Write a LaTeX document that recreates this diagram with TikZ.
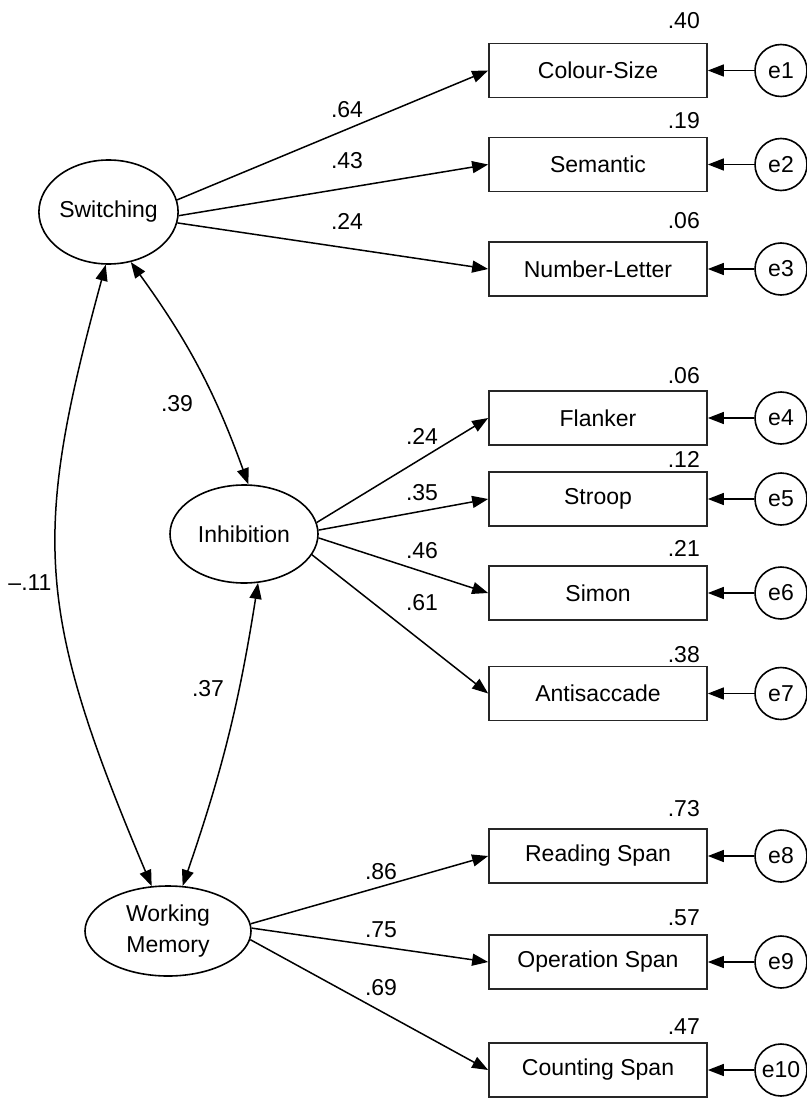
\documentclass[tikz,border=0pt]{standalone}
\usepackage{fontspec}
\setmainfont{Liberation Sans}
\usetikzlibrary{arrows.meta,shapes.geometric}
\begin{document}
\begin{tikzpicture}[x=1pt,y=-1pt,
  every node/.style={font=\fontsize{23}{31}\selectfont},
  obs/.style={draw=black!85,line width=1.7pt,minimum width=218pt,minimum height=54pt,inner sep=0pt},
  lat/.style={draw,ellipse,line width=1.6pt,inner sep=0pt},
  err/.style={draw,circle,line width=1.6pt,minimum size=52pt,inner sep=0pt},
  lbl/.style={inner sep=0pt},
  load/.style={line width=1.5pt,-{Triangle[length=16pt,width=12pt]}},
  cov/.style={line width=1.5pt,{Triangle[length=16pt,width=12pt]}-{Triangle[length=16pt,width=12pt]}}
]
\useasboundingbox (0,0) rectangle (806,1099);
\fill[white] (0,0) rectangle (806,1099);

% latent variables
\node[lat,minimum width=137pt,minimum height=104pt] (sw) at (108.5,212) {Switching};
\node[lat,minimum width=148pt,minimum height=98pt] (inh) at (244,534) {Inhibition};
\node[lat,minimum width=166pt,minimum height=90pt,align=center] (wm) at (168,931) {Working\\Memory};

% observed variables
\node[obs] (cs)  at (598,70.5)  {Colour-Size};
\node[obs] (sem) at (598,164.5) {Semantic};
\node[obs] (nl)  at (598,269)   {Number-Letter};
\node[obs] (fl)  at (598,418)   {Flanker};
\node[obs] (st)  at (598,499)   {Stroop};
\node[obs] (si)  at (598,593)   {Simon};
\node[obs] (an)  at (598,693.5) {Antisaccade};
\node[obs] (rs)  at (598,856)   {Reading Span};
\node[obs] (os)  at (598,962)   {Operation Span};
\node[obs] (cn)  at (598,1070)  {Counting Span};

% error terms
\node[err] (e1)  at (781,70.5)  {e1};
\node[err] (e2)  at (781,164.5) {e2};
\node[err] (e3)  at (781,269)   {e3};
\node[err] (e4)  at (781,418)   {e4};
\node[err] (e5)  at (781,499)   {e5};
\node[err] (e6)  at (781,593)   {e6};
\node[err] (e7)  at (781,693.5) {e7};
\node[err] (e8)  at (781,856)   {e8};
\node[err] (e9)  at (781,962)   {e9};
\node[err] (e10) at (781,1070)  {e10};

% R squared
\node[lbl,anchor=east] (r1)  at (700,21)   {.40};
\node[lbl,anchor=east] (r2)  at (700,121)  {.19};
\node[lbl,anchor=east] (r3)  at (700,221)  {.06};
\node[lbl,anchor=east] (r4)  at (700,376)  {.06};
\node[lbl,anchor=east] (r5)  at (700,459)  {.12};
\node[lbl,anchor=east] (r6)  at (700,548)  {.21};
\node[lbl,anchor=east] (r7)  at (700,655)  {.38};
\node[lbl,anchor=east] (r8)  at (700,809)  {.73};
\node[lbl,anchor=east] (r9)  at (700,918)  {.57};
\node[lbl,anchor=east] (r10) at (700,1027) {.47};

% loadings
\draw[load] (sw.10)  -- (cs.west);
\draw[load] (sw.-3)  -- (sem.west);
\draw[load] (sw.-9)  -- (nl.west);
\draw[load] (inh.9)  -- (fl.west);
\draw[load] (inh.3)  -- (st.west);
\draw[load] (inh.-3) -- (si.west);
\draw[load] (inh.-17) -- (an.west);
\draw[load] (wm.5.5) -- (rs.west);
\draw[load] (wm.2)   -- (os.west);
\draw[load] (wm.-6)  -- (cn.west);

% error arrows
\foreach \e/\b in {e1/cs,e2/sem,e3/nl,e4/fl,e5/st,e6/si,e7/an,e8/rs,e9/os,e10/cn}
  \draw[load] (\e.west) -- (\b.east);

% covariances
\draw[cov] (sw.-66.5) to[bend left=8] (inh.85);
\draw[cov] (inh.-74) to[bend left=5] (wm.72.5);
\draw[cov] (sw.-93) .. controls (32,535) and (35,610) .. (wm.110);

% loading labels
\node[lbl] (l1)  at (347,110) {.64};
\node[lbl] (l2)  at (347,161) {.43};
\node[lbl] (l3)  at (347,221) {.24};
\node[lbl] (l4)  at (422,436) {.24};
\node[lbl] (l5)  at (422,493) {.35};
\node[lbl] (l6)  at (422,551) {.46};
\node[lbl] (l7)  at (422,603) {.61};
\node[lbl] (l8)  at (381,872) {.86};
\node[lbl] (l9)  at (381,930) {.75};
\node[lbl] (l10) at (381,988) {.69};
\node[lbl] (c1)  at (177,404) {.39};
\node[lbl] (c2)  at (30,583)  {–.11};
\node[lbl] (c3)  at (208,689) {.37};
\end{tikzpicture}
\end{document}
